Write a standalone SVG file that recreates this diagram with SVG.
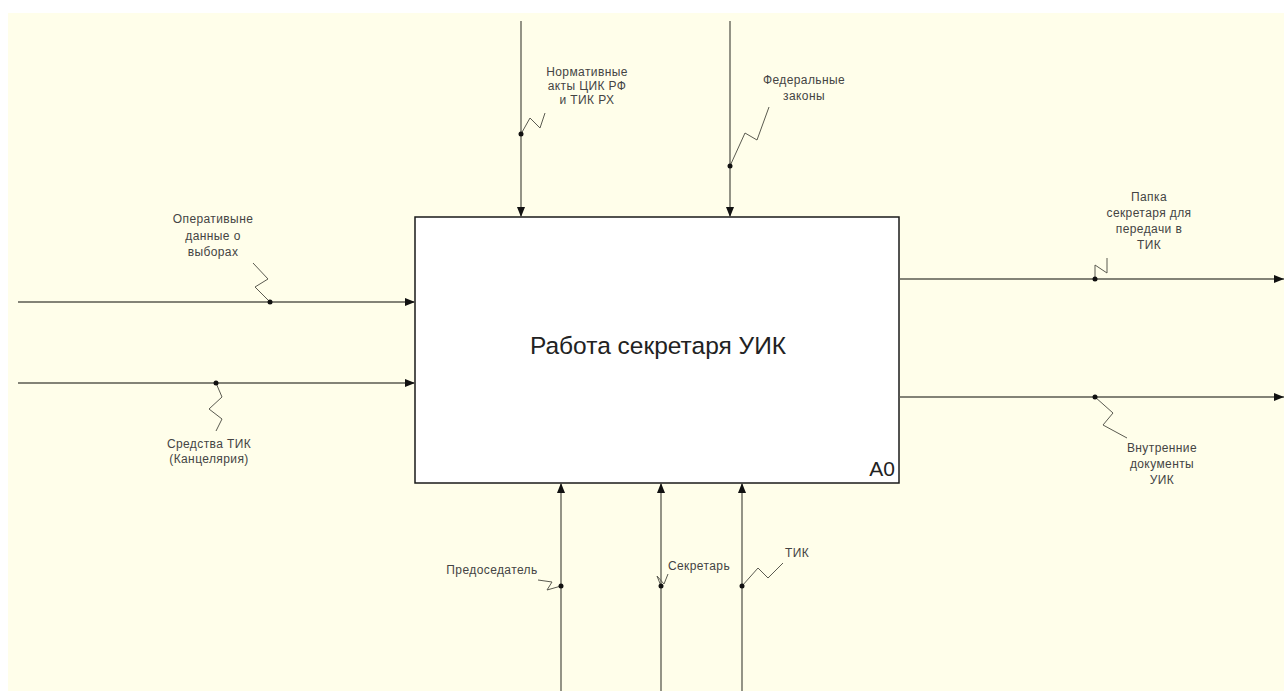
<svg xmlns="http://www.w3.org/2000/svg" width="1284" height="691" viewBox="0 0 1284 691">
<defs>
<style>
.bg{fill:#fffeea}
.box{fill:#ffffff;stroke:#1a1a1a;stroke-width:1.5}
.arr{fill:none;stroke:#5a5a50;stroke-width:1.3;marker-end:url(#ah)}
.sq{fill:none;stroke:#5a5a50;stroke-width:1}
.dot{fill:#111}
.lbl{font-family:"Liberation Sans",Arial,sans-serif;font-size:12px;fill:#444;text-anchor:middle;letter-spacing:0.4px}
.title{font-family:"Liberation Sans",Arial,sans-serif;font-size:24.5px;fill:#222;text-anchor:middle}
.num{font-family:"Liberation Sans",Arial,sans-serif;font-size:21px;fill:#222;text-anchor:end}
</style>
<marker id="ah" markerUnits="userSpaceOnUse" markerWidth="10" markerHeight="8" refX="10" refY="4" orient="auto">
<path d="M0,0 L10,4 L0,8 z" fill="#111"/>
</marker>
</defs>
<rect x="0" y="0" width="1284" height="691" fill="#ffffff"/>
<rect class="bg" x="8" y="13" width="1276" height="678"/>

<g id="node-A0">
<rect class="box" x="415" y="217" width="484" height="266"/>
<text class="title" x="658" y="354">Работа секретаря УИК</text>
<text class="num" x="895" y="476">A0</text>
</g>

<g id="connectors">
<line class="arr" x1="18" y1="302" x2="415" y2="302"/>
<line class="arr" x1="18" y1="383" x2="415" y2="383"/>
<line class="arr" x1="521" y1="21" x2="521" y2="217"/>
<line class="arr" x1="730" y1="21" x2="730" y2="217"/>
<line class="arr" x1="899" y1="279" x2="1284" y2="279"/>
<line class="arr" x1="899" y1="397" x2="1284" y2="397"/>
<line class="arr" x1="561" y1="691" x2="561" y2="483"/>
<line class="arr" x1="661" y1="691" x2="661" y2="483"/>
<line class="arr" x1="742" y1="691" x2="742" y2="483"/>

<polyline class="sq" points="270,302 255,287 268,279 253,263"/>
<polyline class="sq" points="216,383 222,397 209,409 222,419 216,431"/>
<polyline class="sq" points="521,134 530,118 540,128 545,113"/>
<polyline class="sq" points="730,166 745,133 757,140 769,107"/>
<polyline class="sq" points="1095,279 1095,265 1107,273 1107,258"/>
<polyline class="sq" points="1095,397 1113,413 1103,425 1127,438"/>
<polyline class="sq" points="561,586 547,590 552,582 538,580"/>
<polyline class="sq" points="661,586 657,576 664,584 668,574"/>
<polyline class="sq" points="742,586 758,568 768,578 783,563"/>

<circle class="dot" cx="270" cy="302" r="2.5"/>
<circle class="dot" cx="216" cy="383" r="2.5"/>
<circle class="dot" cx="521" cy="134" r="2.5"/>
<circle class="dot" cx="730" cy="166" r="2.5"/>
<circle class="dot" cx="1095" cy="279" r="2.5"/>
<circle class="dot" cx="1095" cy="397" r="2.5"/>
<circle class="dot" cx="561" cy="586" r="2.5"/>
<circle class="dot" cx="661" cy="586" r="2.5"/>
<circle class="dot" cx="742" cy="586" r="2.5"/>
</g>

<g id="labels">
<text class="lbl" x="213" y="223">Оперативыне</text>
<text class="lbl" x="213" y="240">данные о</text>
<text class="lbl" x="213" y="256">выборах</text>

<text class="lbl" x="209" y="448">Средства ТИК</text>
<text class="lbl" x="209" y="463">(Канцелярия)</text>

<text class="lbl" x="587" y="76">Нормативные</text>
<text class="lbl" x="587" y="90">акты ЦИК РФ</text>
<text class="lbl" x="587" y="104">и ТИК РХ</text>

<text class="lbl" x="804" y="84">Федеральные</text>
<text class="lbl" x="804" y="100">законы</text>

<text class="lbl" x="1149" y="201">Папка</text>
<text class="lbl" x="1149" y="217">секретаря для</text>
<text class="lbl" x="1149" y="233">передачи в</text>
<text class="lbl" x="1149" y="249">ТИК</text>

<text class="lbl" x="1162" y="452">Внутренние</text>
<text class="lbl" x="1162" y="468">документы</text>
<text class="lbl" x="1162" y="484">УИК</text>

<text class="lbl" x="492" y="574">Предоседатель</text>
<text class="lbl" x="699" y="570">Секретарь</text>
<text class="lbl" x="797" y="557">ТИК</text>
</g>
</svg>
